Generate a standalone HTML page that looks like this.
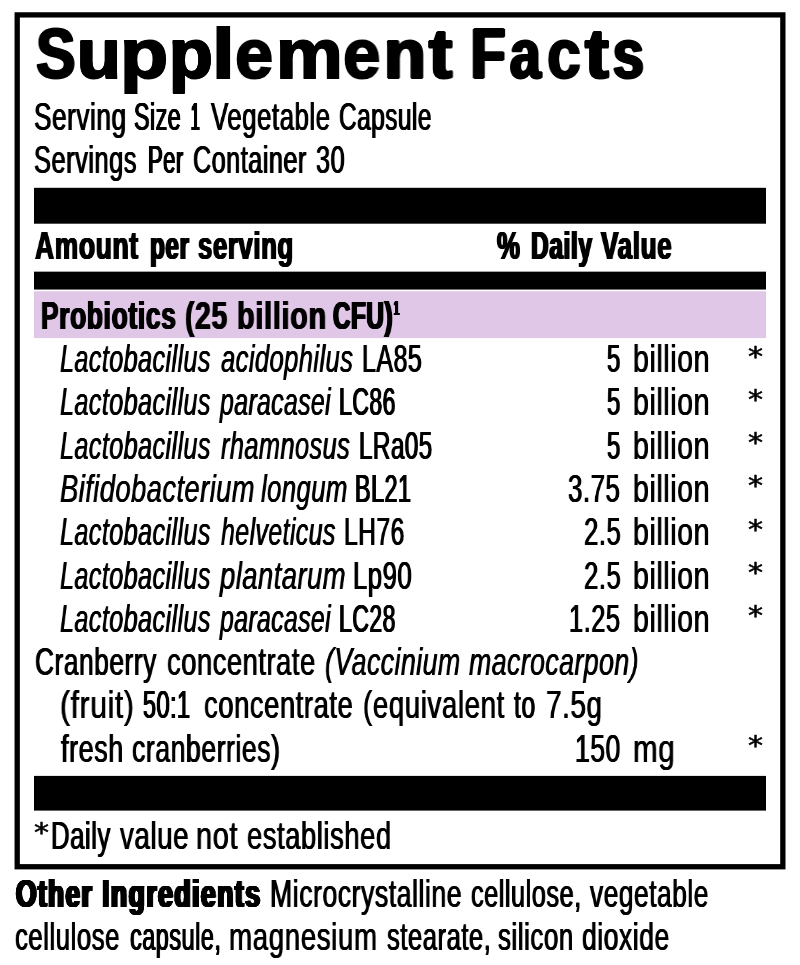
<!DOCTYPE html>
<html lang="en"><head><meta charset="utf-8"><title>Supplement Facts</title>
<style>
html,body{margin:0;padding:0;background:#fff}
body{width:800px;height:965px;position:relative;overflow:hidden;color:#000}
svg.g{position:absolute;left:0;top:0}
.ln{margin:0;padding:0;font-size:0;line-height:0;font-weight:400}
.t{position:absolute;white-space:pre;line-height:1;transform-origin:0 0;will-change:transform;color:#000}
.r{font-family:"Liberation Sans", sans-serif;font-weight:400;letter-spacing:.8px;}
.i{font-family:"Liberation Sans", sans-serif;font-weight:400;font-style:italic;letter-spacing:.6px;}
.b{font-family:"Liberation Sans", sans-serif;font-weight:700;letter-spacing:1px;}
.k{font-family:"Liberation Sans", sans-serif;font-weight:700;letter-spacing:2px;}
.ttl{font-family:"Liberation Sans", sans-serif;font-weight:700;-webkit-text-stroke:2px #000;}
.a{font-family:"DejaVu Sans", "Liberation Sans", sans-serif;font-weight:400;-webkit-text-stroke:.55px #000;}
</style></head>
<body>
<svg class="g" width="800" height="965" viewBox="0 0 800 965">
<rect x="17.2" y="14.9" width="765.65" height="851.85" fill="none" stroke="#000" stroke-width="5.3"/>
<rect x="34" y="187.8" width="732" height="35.9" fill="#000"/>
<rect x="34" y="271.65" width="732" height="17.9" fill="#000"/>
<rect x="34" y="291.25" width="732" height="46.85" fill="#e0c6e7"/>
<rect x="34" y="775.9" width="732" height="34.7" fill="#000"/>
</svg>
<h1 class="ln">
<span class="t ttl" style="left:36.39px;top:18.60px;font-size:70.50px;transform:scaleX(0.8394);text-shadow:-1.51px 0px #000,-0.76px 0px #000,0.76px 0px #000,1.51px 0px #000">S</span><span class="t ttl" style="left:77.35px;top:18.60px;font-size:70.50px;transform:scaleX(1.0162);text-shadow:-1.34px 0px #000,-0.67px 0px #000,0.67px 0px #000,1.34px 0px #000">u</span><span class="t ttl" style="left:119.97px;top:18.60px;font-size:70.50px;transform:scaleX(1.1187);text-shadow:-0.49px 0px #000,0.49px 0px #000">p</span><span class="t ttl" style="left:168.96px;top:18.60px;font-size:70.50px;transform:scaleX(1.0136);text-shadow:-1.25px 0px #000,-0.62px 0px #000,0.62px 0px #000,1.25px 0px #000">p</span><span class="t ttl" style="left:212.45px;top:18.60px;font-size:70.50px;transform:scaleX(1.1591);text-shadow:-0.68px 0px #000,0.68px 0px #000">l</span><span class="t ttl" style="left:235.28px;top:18.60px;font-size:70.50px;transform:scaleX(0.9716);text-shadow:-0.35px 0px #000,0.35px 0px #000">e</span><span class="t ttl" style="left:275.75px;top:18.60px;font-size:70.50px;transform:scaleX(1.0657);text-shadow:-0.82px 0px #000,0.82px 0px #000">m</span><span class="t ttl" style="left:343.31px;top:18.60px;font-size:70.50px;transform:scaleX(0.9551);text-shadow:-0.52px 0px #000,0.52px 0px #000">e</span><span class="t ttl" style="left:384.16px;top:18.60px;font-size:70.50px;transform:scaleX(0.9704);text-shadow:-1.7px 0px #000,-0.85px 0px #000,0.85px 0px #000,1.7px 0px #000">n</span><span class="t ttl" style="left:428.58px;top:18.60px;font-size:70.50px;transform:scaleX(0.9820);text-shadow:-1.86px 0px #000,-1.24px 0px #000,-0.62px 0px #000,0.62px 0px #000,1.24px 0px #000,1.86px 0px #000">t</span>
<span class="t ttl" style="left:471.41px;top:18.60px;font-size:70.50px;transform:scaleX(0.7951);text-shadow:-2.6px 0px #000,-1.73px 0px #000,-0.87px 0px #000,0.87px 0px #000,1.73px 0px #000,2.6px 0px #000">F</span><span class="t ttl" style="left:510.00px;top:18.60px;font-size:70.50px;transform:scaleX(0.7810);text-shadow:-2.12px 0px #000,-1.41px 0px #000,-0.71px 0px #000,0.71px 0px #000,1.41px 0px #000,2.12px 0px #000">a</span><span class="t ttl" style="left:547.14px;top:18.60px;font-size:70.50px;transform:scaleX(0.8590);text-shadow:-1.37px 0px #000,-0.68px 0px #000,0.68px 0px #000,1.37px 0px #000">c</span><span class="t ttl" style="left:584.61px;top:18.60px;font-size:70.50px;transform:scaleX(1.0116);text-shadow:-1.54px 0px #000,-0.77px 0px #000,0.77px 0px #000,1.54px 0px #000">t</span><span class="t ttl" style="left:613.13px;top:18.60px;font-size:70.50px;transform:scaleX(0.7812);text-shadow:-2.13px 0px #000,-1.42px 0px #000,-0.71px 0px #000,0.71px 0px #000,1.42px 0px #000,2.13px 0px #000">s</span>
</h1>
<div class="ln">
<span class="t r" style="left:34.36px;top:97.50px;font-size:38.10px;transform:scaleX(0.6873);text-shadow:-0.69px 0px #000,0.69px 0px #000">Serving</span>
<span class="t r" style="left:134.28px;top:97.50px;font-size:38.10px;transform:scaleX(0.6103);text-shadow:-0.99px 0px #000,-0.49px 0px #000,0.49px 0px #000,0.99px 0px #000">Size</span>
<span class="t r" style="left:190.94px;top:97.50px;font-size:38.10px;transform:scaleX(0.4003);text-shadow:-2.2px 0px #000,-1.47px 0px #000,-0.73px 0px #000,0.73px 0px #000,1.47px 0px #000,2.2px 0px #000">1</span>
<span class="t r" style="left:210.50px;top:97.50px;font-size:38.10px;transform:scaleX(0.6769);text-shadow:-0.73px 0px #000,0.73px 0px #000">Vegetable</span>
<span class="t r" style="left:338.69px;top:97.50px;font-size:38.10px;transform:scaleX(0.6394);text-shadow:-0.86px 0px #000,0.86px 0px #000">Capsule</span>
</div>
<div class="ln">
<span class="t r" style="left:34.38px;top:140.50px;font-size:38.10px;transform:scaleX(0.6664);text-shadow:-0.76px 0px #000,0.76px 0px #000">Servings</span>
<span class="t r" style="left:147.69px;top:140.50px;font-size:38.10px;transform:scaleX(0.5788);text-shadow:-1.14px 0px #000,-0.57px 0px #000,0.57px 0px #000,1.14px 0px #000">Per</span>
<span class="t r" style="left:193.37px;top:140.50px;font-size:38.10px;transform:scaleX(0.6606);text-shadow:-0.78px 0px #000,0.78px 0px #000">Container</span>
<span class="t r" style="left:316.45px;top:140.50px;font-size:38.10px;transform:scaleX(0.6639);text-shadow:-0.76px 0px #000,0.76px 0px #000">30</span>
</div>
<div class="ln">
<span class="t b" style="left:35.05px;top:227.00px;font-size:38.10px;transform:scaleX(0.6930);text-shadow:-1.11px 0px #000,-0.55px 0px #000,0.55px 0px #000,1.11px 0px #000">Amount</span>
<span class="t b" style="left:150.42px;top:227.00px;font-size:38.10px;transform:scaleX(0.6349);text-shadow:-1.44px 0px #000,-0.72px 0px #000,0.72px 0px #000,1.44px 0px #000">per</span>
<span class="t b" style="left:197.62px;top:227.00px;font-size:38.10px;transform:scaleX(0.6726);text-shadow:-1.2px 0px #000,-0.6px 0px #000,0.6px 0px #000,1.2px 0px #000">serving</span>
<span class="t b" style="left:497.20px;top:227.00px;font-size:38.10px;transform:scaleX(0.6804);text-shadow:-1.18px 0px #000,-0.59px 0px #000,0.59px 0px #000,1.18px 0px #000">%</span>
<span class="t b" style="left:530.72px;top:227.00px;font-size:38.10px;transform:scaleX(0.6422);text-shadow:-1.39px 0px #000,-0.7px 0px #000,0.7px 0px #000,1.39px 0px #000">Daily</span>
<span class="t b" style="left:600.71px;top:227.00px;font-size:38.10px;transform:scaleX(0.6822);text-shadow:-1.16px 0px #000,-0.58px 0px #000,0.58px 0px #000,1.16px 0px #000">Value</span>
</div>
<div class="ln">
<span class="t b" style="left:40.94px;top:296.60px;font-size:38.10px;transform:scaleX(0.6902);text-shadow:-1.12px 0px #000,-0.56px 0px #000,0.56px 0px #000,1.12px 0px #000">Probiotics</span>
<span class="t b" style="left:185.31px;top:296.60px;font-size:38.10px;transform:scaleX(0.7407);text-shadow:-0.85px 0px #000,0.85px 0px #000">(25</span>
<span class="t b" style="left:236.66px;top:296.60px;font-size:38.10px;transform:scaleX(0.7548);text-shadow:-0.79px 0px #000,0.79px 0px #000">billion</span>
<span class="t b" style="left:332.65px;top:296.60px;font-size:38.10px;transform:scaleX(0.6334);text-shadow:-1.42px 0px #000,-0.71px 0px #000,0.71px 0px #000,1.42px 0px #000">CFU)</span>
<span class="t b" style="left:394.27px;top:298.00px;font-size:20.30px;transform:scaleX(0.4354);text-shadow:-2.2px 0px #000,-1.47px 0px #000,-0.73px 0px #000,0.73px 0px #000,1.47px 0px #000,2.2px 0px #000">1</span>
</div>
<div class="ln">
<span class="t i" style="left:59.71px;top:340.00px;font-size:38.10px;transform:scaleX(0.6618);text-shadow:-0.56px 0px #000,0.56px 0px #000">Lactobacillus</span>
<span class="t i" style="left:221.26px;top:340.00px;font-size:38.10px;transform:scaleX(0.6713);text-shadow:-0.52px 0px #000,0.52px 0px #000">acidophilus</span>
<span class="t r" style="left:361.70px;top:340.00px;font-size:38.10px;transform:scaleX(0.6543);text-shadow:-0.8px 0px #000,0.8px 0px #000">LA85</span>
<span class="t r" style="left:606.82px;top:340.00px;font-size:38.10px;transform:scaleX(0.6271);text-shadow:-0.89px 0px #000,0.89px 0px #000">5</span>
<span class="t r" style="left:633.39px;top:340.00px;font-size:38.10px;transform:scaleX(0.7484);text-shadow:-0.5px 0px #000,0.5px 0px #000">billion</span>
<span class="t a" style="left:748.19px;top:342.59px;font-size:27.37px;transform:scaleX(1.0986)">*</span>
</div>
<div class="ln">
<span class="t i" style="left:59.71px;top:383.30px;font-size:38.10px;transform:scaleX(0.6618);text-shadow:-0.56px 0px #000,0.56px 0px #000">Lactobacillus</span>
<span class="t i" style="left:219.64px;top:383.30px;font-size:38.10px;transform:scaleX(0.6510);text-shadow:-0.6px 0px #000,0.6px 0px #000">paracasei</span>
<span class="t r" style="left:338.83px;top:383.30px;font-size:38.10px;transform:scaleX(0.6036);text-shadow:-1.02px 0px #000,-0.51px 0px #000,0.51px 0px #000,1.02px 0px #000">LC86</span>
<span class="t r" style="left:606.82px;top:383.30px;font-size:38.10px;transform:scaleX(0.6271);text-shadow:-0.89px 0px #000,0.89px 0px #000">5</span>
<span class="t r" style="left:633.39px;top:383.30px;font-size:38.10px;transform:scaleX(0.7484);text-shadow:-0.5px 0px #000,0.5px 0px #000">billion</span>
<span class="t a" style="left:748.19px;top:385.89px;font-size:27.37px;transform:scaleX(1.0986)">*</span>
</div>
<div class="ln">
<span class="t i" style="left:59.71px;top:426.60px;font-size:38.10px;transform:scaleX(0.6618);text-shadow:-0.56px 0px #000,0.56px 0px #000">Lactobacillus</span>
<span class="t i" style="left:221.28px;top:426.60px;font-size:38.10px;transform:scaleX(0.6666);text-shadow:-0.53px 0px #000,0.53px 0px #000">rhamnosus</span>
<span class="t r" style="left:358.77px;top:426.60px;font-size:38.10px;transform:scaleX(0.6345);text-shadow:-0.88px 0px #000,0.88px 0px #000">LRa05</span>
<span class="t r" style="left:606.82px;top:426.60px;font-size:38.10px;transform:scaleX(0.6271);text-shadow:-0.89px 0px #000,0.89px 0px #000">5</span>
<span class="t r" style="left:633.39px;top:426.60px;font-size:38.10px;transform:scaleX(0.7484);text-shadow:-0.5px 0px #000,0.5px 0px #000">billion</span>
</div>
<div class="ln">
<span class="t a" style="left:748.19px;top:429.19px;font-size:27.37px;transform:scaleX(1.0986)">*</span>
</div>
<div class="ln">
<span class="t i" style="left:59.76px;top:469.90px;font-size:38.10px;transform:scaleX(0.7184);text-shadow:-0.38px 0px #000,0.38px 0px #000">Bifidobacterium</span>
<span class="t i" style="left:260.53px;top:469.90px;font-size:38.10px;transform:scaleX(0.6748);text-shadow:-0.5px 0px #000,0.5px 0px #000">longum</span>
<span class="t r" style="left:354.92px;top:469.90px;font-size:38.10px;transform:scaleX(0.6118);text-shadow:-0.98px 0px #000,-0.49px 0px #000,0.49px 0px #000,0.98px 0px #000">BL21</span>
<span class="t r" style="left:568.44px;top:469.90px;font-size:38.10px;transform:scaleX(0.6783);text-shadow:-0.71px 0px #000,0.71px 0px #000">3.75</span>
<span class="t r" style="left:633.39px;top:469.90px;font-size:38.10px;transform:scaleX(0.7484);text-shadow:-0.5px 0px #000,0.5px 0px #000">billion</span>
<span class="t a" style="left:748.19px;top:472.49px;font-size:27.37px;transform:scaleX(1.0986)">*</span>
</div>
<div class="ln">
<span class="t i" style="left:59.71px;top:513.20px;font-size:38.10px;transform:scaleX(0.6618);text-shadow:-0.56px 0px #000,0.56px 0px #000">Lactobacillus</span>
<span class="t i" style="left:220.78px;top:513.20px;font-size:38.10px;transform:scaleX(0.6547);text-shadow:-0.58px 0px #000,0.58px 0px #000">helveticus</span>
<span class="t r" style="left:343.72px;top:513.20px;font-size:38.10px;transform:scaleX(0.6455);text-shadow:-0.84px 0px #000,0.84px 0px #000">LH76</span>
<span class="t r" style="left:583.57px;top:513.20px;font-size:38.10px;transform:scaleX(0.6744);text-shadow:-0.72px 0px #000,0.72px 0px #000">2.5</span>
<span class="t r" style="left:633.39px;top:513.20px;font-size:38.10px;transform:scaleX(0.7484);text-shadow:-0.5px 0px #000,0.5px 0px #000">billion</span>
<span class="t a" style="left:748.19px;top:515.79px;font-size:27.37px;transform:scaleX(1.0986)">*</span>
</div>
<div class="ln">
<span class="t i" style="left:59.71px;top:556.50px;font-size:38.10px;transform:scaleX(0.6618);text-shadow:-0.56px 0px #000,0.56px 0px #000">Lactobacillus</span>
<span class="t i" style="left:219.74px;top:556.50px;font-size:38.10px;transform:scaleX(0.7210);text-shadow:-0.38px 0px #000,0.38px 0px #000">plantarum</span>
<span class="t r" style="left:353.16px;top:556.50px;font-size:38.10px;transform:scaleX(0.6734);text-shadow:-0.73px 0px #000,0.73px 0px #000">Lp90</span>
<span class="t r" style="left:583.57px;top:556.50px;font-size:38.10px;transform:scaleX(0.6744);text-shadow:-0.72px 0px #000,0.72px 0px #000">2.5</span>
<span class="t r" style="left:633.39px;top:556.50px;font-size:38.10px;transform:scaleX(0.7484);text-shadow:-0.5px 0px #000,0.5px 0px #000">billion</span>
<span class="t a" style="left:748.19px;top:559.09px;font-size:27.37px;transform:scaleX(1.0986)">*</span>
</div>
<div class="ln">
<span class="t i" style="left:59.71px;top:599.80px;font-size:38.10px;transform:scaleX(0.6618);text-shadow:-0.56px 0px #000,0.56px 0px #000">Lactobacillus</span>
<span class="t i" style="left:219.64px;top:599.80px;font-size:38.10px;transform:scaleX(0.6510);text-shadow:-0.6px 0px #000,0.6px 0px #000">paracasei</span>
<span class="t r" style="left:338.83px;top:599.80px;font-size:38.10px;transform:scaleX(0.6036);text-shadow:-1.02px 0px #000,-0.51px 0px #000,0.51px 0px #000,1.02px 0px #000">LC28</span>
<span class="t r" style="left:569.21px;top:599.80px;font-size:38.10px;transform:scaleX(0.6682);text-shadow:-0.75px 0px #000,0.75px 0px #000">1.25</span>
<span class="t r" style="left:633.39px;top:599.80px;font-size:38.10px;transform:scaleX(0.7484);text-shadow:-0.5px 0px #000,0.5px 0px #000">billion</span>
<span class="t a" style="left:748.19px;top:602.39px;font-size:27.37px;transform:scaleX(1.0986)">*</span>
</div>
<div class="ln">
<span class="t r" style="left:35.34px;top:643.10px;font-size:38.10px;transform:scaleX(0.6904);text-shadow:-0.68px 0px #000,0.68px 0px #000">Cranberry</span>
<span class="t r" style="left:166.83px;top:643.10px;font-size:38.10px;transform:scaleX(0.7158);text-shadow:-0.59px 0px #000,0.59px 0px #000">concentrate</span>
<span class="t i" style="left:324.62px;top:643.10px;font-size:38.10px;transform:scaleX(0.7030);text-shadow:-0.42px 0px #000,0.42px 0px #000">(Vaccinium</span>
<span class="t i" style="left:469.03px;top:643.10px;font-size:38.10px;transform:scaleX(0.7019);text-shadow:-0.42px 0px #000,0.42px 0px #000">macrocarpon)</span>
</div>
<div class="ln">
<span class="t r" style="left:59.81px;top:686.40px;font-size:38.10px;transform:scaleX(0.7888);text-shadow:-0.38px 0px #000,0.38px 0px #000">(fruit)</span>
<span class="t r" style="left:143.04px;top:686.40px;font-size:38.10px;transform:scaleX(0.6151);text-shadow:-0.96px 0px #000,-0.48px 0px #000,0.48px 0px #000,0.96px 0px #000">50:1</span>
<span class="t r" style="left:203.83px;top:686.40px;font-size:38.10px;transform:scaleX(0.7188);text-shadow:-0.58px 0px #000,0.58px 0px #000">concentrate</span>
<span class="t r" style="left:363.18px;top:686.40px;font-size:38.10px;transform:scaleX(0.7272);text-shadow:-0.56px 0px #000,0.56px 0px #000">(equivalent</span>
<span class="t r" style="left:513.64px;top:686.40px;font-size:38.10px;transform:scaleX(0.6504);text-shadow:-0.82px 0px #000,0.82px 0px #000">to</span>
<span class="t r" style="left:545.57px;top:686.40px;font-size:38.10px;transform:scaleX(0.7323);text-shadow:-0.52px 0px #000,0.52px 0px #000">7.5g</span>
</div>
<div class="ln">
<span class="t r" style="left:61.41px;top:729.70px;font-size:38.10px;transform:scaleX(0.7090);text-shadow:-0.63px 0px #000,0.63px 0px #000">fresh</span>
<span class="t r" style="left:131.82px;top:729.70px;font-size:38.10px;transform:scaleX(0.6981);text-shadow:-0.65px 0px #000,0.65px 0px #000">cranberries)</span>
<span class="t r" style="left:575.35px;top:729.70px;font-size:38.10px;transform:scaleX(0.6958);text-shadow:-0.67px 0px #000,0.67px 0px #000">150</span>
<span class="t r" style="left:633.42px;top:729.70px;font-size:38.10px;transform:scaleX(0.7757);text-shadow:-0.39px 0px #000,0.39px 0px #000">mg</span>
<span class="t a" style="left:748.19px;top:732.29px;font-size:27.37px;transform:scaleX(1.0986)">*</span>
</div>
<div class="ln">
<span class="t a" style="left:34.29px;top:819.19px;font-size:27.37px;transform:scaleX(1.0986)">*</span>
<span class="t r" style="left:51.06px;top:816.50px;font-size:38.10px;transform:scaleX(0.6759);text-shadow:-0.73px 0px #000,0.73px 0px #000">Daily</span>
<span class="t r" style="left:120.18px;top:816.50px;font-size:38.10px;transform:scaleX(0.7266);text-shadow:-0.58px 0px #000,0.58px 0px #000">value</span>
<span class="t r" style="left:196.15px;top:816.50px;font-size:38.10px;transform:scaleX(0.7599);text-shadow:-0.44px 0px #000,0.44px 0px #000">not</span>
<span class="t r" style="left:246.53px;top:816.50px;font-size:38.10px;transform:scaleX(0.7183);text-shadow:-0.58px 0px #000,0.58px 0px #000">established</span>
</div>
<div class="ln">
<span class="t k" style="left:16.02px;top:874.50px;font-size:38.10px;transform:scaleX(0.6906);text-shadow:-1.66px -0.4px #000,-0.83px -0.4px #000,0px -0.4px #000,0.83px -0.4px #000,1.66px -0.4px #000,-1.66px 0px #000,-0.83px 0px #000,0.83px 0px #000,1.66px 0px #000,-1.66px 0.4px #000,-0.83px 0.4px #000,0px 0.4px #000,0.83px 0.4px #000,1.66px 0.4px #000">Other</span>
<span class="t k" style="left:101.66px;top:874.50px;font-size:38.10px;transform:scaleX(0.7015);text-shadow:-1.59px -0.4px #000,-0.8px -0.4px #000,0px -0.4px #000,0.8px -0.4px #000,1.59px -0.4px #000,-1.59px 0px #000,-0.8px 0px #000,0.8px 0px #000,1.59px 0px #000,-1.59px 0.4px #000,-0.8px 0.4px #000,0px 0.4px #000,0.8px 0.4px #000,1.59px 0.4px #000">Ingredients</span>
<span class="t r" style="left:269.91px;top:874.50px;font-size:38.10px;transform:scaleX(0.6983);text-shadow:-0.65px 0px #000,0.65px 0px #000">Microcrystalline</span>
<span class="t r" style="left:470.65px;top:874.50px;font-size:38.10px;transform:scaleX(0.6640);text-shadow:-0.77px 0px #000,0.77px 0px #000">cellulose,</span>
<span class="t r" style="left:589.90px;top:874.50px;font-size:38.10px;transform:scaleX(0.6900);text-shadow:-0.68px 0px #000,0.68px 0px #000">vegetable</span>
</div>
<div class="ln">
<span class="t r" style="left:15.44px;top:917.75px;font-size:38.10px;transform:scaleX(0.6757);text-shadow:-0.73px 0px #000,0.73px 0px #000">cellulose</span>
<span class="t r" style="left:129.81px;top:917.75px;font-size:38.10px;transform:scaleX(0.6166);text-shadow:-0.96px 0px #000,-0.48px 0px #000,0.48px 0px #000,0.96px 0px #000">capsule,</span>
<span class="t r" style="left:229.11px;top:917.75px;font-size:38.10px;transform:scaleX(0.7285);text-shadow:-0.56px 0px #000,0.56px 0px #000">magnesium</span>
<span class="t r" style="left:387.37px;top:917.75px;font-size:38.10px;transform:scaleX(0.6714);text-shadow:-0.75px 0px #000,0.75px 0px #000">stearate,</span>
<span class="t r" style="left:497.82px;top:917.75px;font-size:38.10px;transform:scaleX(0.6797);text-shadow:-0.72px 0px #000,0.72px 0px #000">silicon</span>
<span class="t r" style="left:581.64px;top:917.75px;font-size:38.10px;transform:scaleX(0.6948);text-shadow:-0.66px 0px #000,0.66px 0px #000">dioxide</span>
</div>
</body></html>
